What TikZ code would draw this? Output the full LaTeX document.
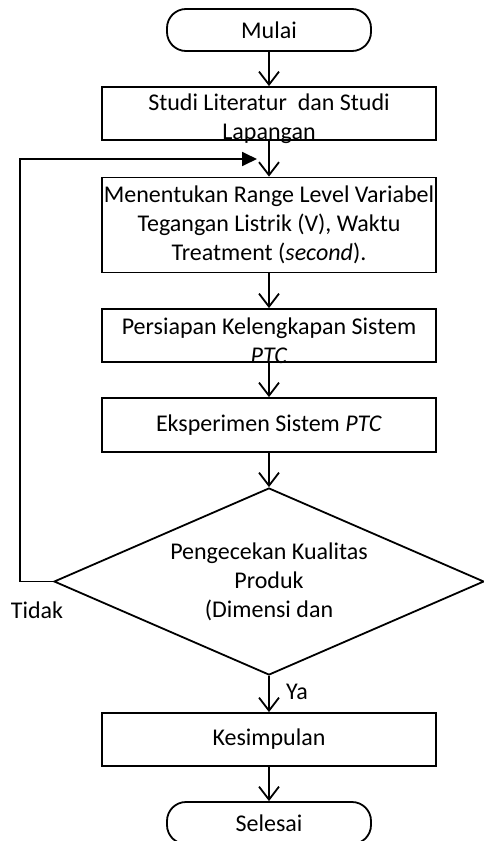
\documentclass[tikz,border=0pt]{standalone}
\usepackage{fontspec}
\setmainfont{Carlito}
\usetikzlibrary{shapes.geometric,arrows.meta}
\begin{document}
\begin{tikzpicture}[x=1pt,y=-1pt, line width=1.8pt,
  every node/.style={font=\fontsize{24}{29}\selectfont, inner sep=0pt, align=center},
  box/.style={draw, minimum width=334pt, minimum height=53pt},
  termbox/.style={draw, rounded corners=19pt, minimum width=204pt, minimum height=42pt},
  decbox/.style={draw, diamond, aspect=2.3, minimum width=430pt, minimum height=187pt},
  lowtext/.style={label={[anchor=center, yshift=-5pt, font=\fontsize{24}{29}\selectfont, align=center]center:{#1}}},
  flow/.style={-{Straight Barb[length=13pt,width=20pt]}},
  back/.style={-{Triangle[length=15pt,width=14pt]}},
  lbl/.style={font=\fontsize{24}{29}\selectfont}]
\clip (0,0) rectangle (484,841);
\node[termbox] (start) at (269,30) {Mulai};
\node[box, lowtext={Studi Literatur~ dan Studi\\Lapangan}] (b1) at (269,113.5) {};
\node[box, minimum height=95pt] (b2) at (269,225) {Menentukan Range Level Variabel\\Tegangan Listrik (V), Waktu\\Treatment (\textit{second}).};
\node[box, lowtext={Persiapan Kelengkapan Sistem\\\textit{PTC}}] (b3) at (269,335.5) {};
\node[box, minimum height=54pt] (b4) at (269,425) {Eksperimen Sistem \textit{PTC}};
\node[decbox] (d) at (269,581.5) {Pengecekan Kualitas\\Produk\\(Dimensi dan};
\node[box] (b5) at (269,739.5) {Kesimpulan};
\node[termbox] (end) at (269,823) {Selesai};
\coordinate (fb) at (257,159);
\node[lbl] (tidak) at (37,610) {Tidak};
\node[lbl] (ya) at (297,692) {Ya};
\draw[flow] (start) -- (b1);
\draw[flow] (b1) -- (b2);
\draw[flow] (b2) -- (b3);
\draw[flow] (b3) -- (b4);
\draw[flow] (b4) -- (d);
\draw[flow] (d) -- (b5);
\draw[flow] (b5) -- (end);
\draw[back] (d.west) -| (20,159) -- (fb);
\end{tikzpicture}
\end{document}
